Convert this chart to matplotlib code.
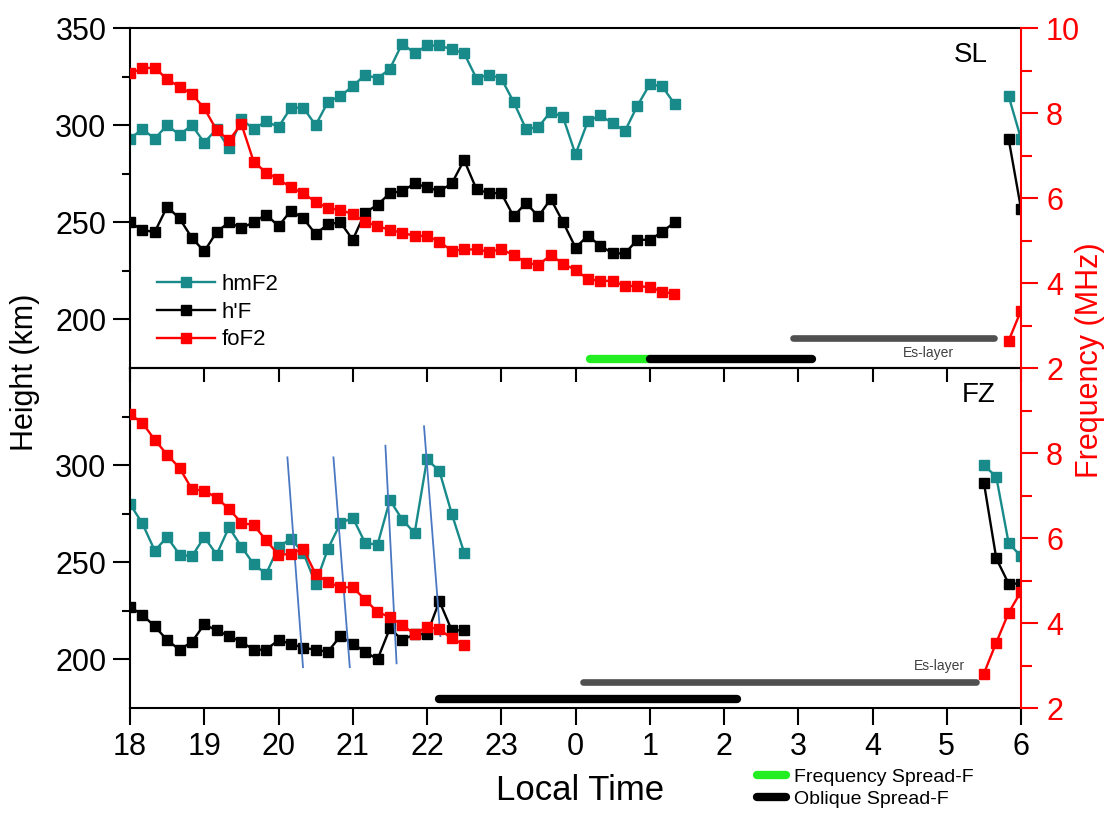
import numpy as np
import matplotlib
matplotlib.use("Agg")
import matplotlib.pyplot as plt
from matplotlib.lines import Line2D
from matplotlib.ticker import FixedLocator, FuncFormatter

plt.rcParams['font.family'] = ['Liberation Sans', 'DejaVu Sans']

# ---- data (10-min sampling from 18 LT) ----
sl_hmf2 = [293, 298, 293, 300, 295, 300, 291, 298, 288, 303, 298, 302, 299, 309, 309,
           300, 312, 315, 320, 326, 324, 329, 342, 337, 341, 341, 339, 337, 324, 326,
           324, 312, 298, 299, 307, 304, 285, 302, 305, 301, 297, 310, 321, 320, 311]
sl_hf = [250, 246, 245, 258, 252, 242, 235, 245, 250, 247, 250, 254, 248, 256, 252,
         244, 249, 250, 241, 255, 259, 265, 266, 270, 268, 266, 270, 282, 267, 265,
         265, 253, 260, 253, 262, 250, 237, 243, 238, 234, 234, 241, 241, 245, 250]
sl_fof2 = [8.93, 9.05, 9.07, 8.79, 8.62, 8.45, 8.11, 7.60, 7.36, 7.74, 6.85, 6.60, 6.44, 6.25, 6.11,
           5.91, 5.76, 5.72, 5.62, 5.44, 5.34, 5.25, 5.18, 5.11, 5.11, 4.97, 4.76, 4.79, 4.79, 4.74,
           4.79, 4.66, 4.48, 4.42, 4.66, 4.45, 4.31, 4.09, 4.05, 4.05, 3.93, 3.93, 3.90, 3.80, 3.74]
sl_late_t = [29.833, 30.0]
sl_late_hmf2 = [315, 293]
sl_late_hf = [293, 257]
sl_late_fof2 = [2.64, 3.35]

fz_hmf2 = [280, 270, 256, 263, 254, 253, 263, 254, 268, 258, 249, 244, 258, 262,
           255, 239, 257, 270, 273, 260, 259, 282, 272, 265, 303, 297, 275, 255]
fz_hf = [227, 223, 217, 210, 205, 209, 218, 215, 212, 209, 205, 205, 210, 208,
         206, 205, 204, 212, 208, 204, 200, 216, 210, 213, 213, 230, 215, 215]
fz_fof2 = [8.91, 8.71, 8.31, 7.96, 7.65, 7.15, 7.11, 6.95, 6.68, 6.36, 6.30, 5.95, 5.60, 5.63,
           5.75, 5.15, 4.96, 4.84, 4.84, 4.55, 4.26, 4.14, 3.95, 3.74, 3.91, 3.85, 3.64, 3.49]
fz_late_t = [29.5, 29.667, 29.833, 30.0]
fz_late_hmf2 = [300, 294, 260, 253]
fz_late_hf = [291, 252, 239, 239]
fz_late_fof2 = [2.81, 3.54, 4.24, 4.74]

# blue tilted streaks (FZ panel): start/end time and height
streak_t0 = [20.12, 20.74, 21.44, 21.96]
streak_t1 = [20.33, 20.96, 21.59, 22.18]
streak_h0 = [304, 304, 310, 320]
streak_h1 = [196, 196, 198, 212]

# event bars: (start, end, height)
sl_es = (26.93, 29.63, 190.6)
sl_freq_sf = (24.19, 25.0, 179.8)
sl_obl_sf = (25.0, 27.19, 179.8)
fz_es = (24.10, 29.39, 188.5)
fz_obl_sf = (22.16, 26.18, 179.5)

hour_ticks = list(range(18, 31))

TEAL = '#188a8a'
RED = '#ff0000'
GRAY = '#505050'
GREEN = '#22ee22'
BLUE = '#4a78c2'

fig = plt.figure(figsize=(11.13, 8.21), dpi=100)
W, H = 1113, 821
ax_top = fig.add_axes([130 / W, 1 - 368 / H, 891 / W, 340 / H])
ax_bot = fig.add_axes([130 / W, 1 - 708 / H, 891 / W, 340 / H])
ax_bot.patch.set_alpha(0)  # let the upper panel's ticks show through
axr_top = ax_top.twinx()
axr_bot = ax_bot.twinx()

line_kw = dict(marker='s', markersize=6.5, linewidth=1.7)


def draw_panel(ax, axr, t, hmf2, hf, fof2, lt, lhmf2, lhf, lfof2):
    h1, = ax.plot(t, hmf2, color=TEAL, label='hmF2', **line_kw)
    h2, = ax.plot(t, hf, color='black', label="h'F", **line_kw)
    ax.plot(lt, lhmf2, color=TEAL, **line_kw)
    ax.plot(lt, lhf, color='black', **line_kw)
    h3, = axr.plot(t, fof2, color=RED, label='foF2', **line_kw)
    axr.plot(lt, lfof2, color=RED, **line_kw)
    return [h1, h2, h3]


t_sl = 18 + np.arange(len(sl_hmf2)) / 6
t_fz = 18 + np.arange(len(fz_hmf2)) / 6
handles = draw_panel(ax_top, axr_top, t_sl, sl_hmf2, sl_hf, sl_fof2,
                     sl_late_t, sl_late_hmf2, sl_late_hf, sl_late_fof2)
draw_panel(ax_bot, axr_bot, t_fz, fz_hmf2, fz_hf, fz_fof2,
           fz_late_t, fz_late_hmf2, fz_late_hf, fz_late_fof2)


# bars
def bar(ax, seg, color, lw):
    ax.plot([seg[0], seg[1]], [seg[2], seg[2]], color=color, lw=lw,
            solid_capstyle='round', zorder=3)


bar(ax_top, sl_es, GRAY, 4.8)
bar(ax_top, sl_freq_sf, GREEN, 6)
bar(ax_top, sl_obl_sf, 'black', 6)
bar(ax_bot, fz_es, GRAY, 4.8)
bar(ax_bot, fz_obl_sf, 'black', 6)
ax_top.text(28.76, 182.9, 'Es-layer', fontsize=10, color='#404040', ha='center', va='center')
ax_bot.text(28.9, 196.6, 'Es-layer', fontsize=10, color='#404040', ha='center', va='center')

for a0, a1, b0, b1 in zip(streak_t0, streak_t1, streak_h0, streak_h1):
    ax_bot.plot([a0, a1], [b0, b1], color=BLUE, lw=1.3, zorder=4)

# panel labels
ax_top.text(0.963, 0.92, 'SL', transform=ax_top.transAxes, fontsize=20, ha='right', va='center')
ax_bot.text(0.971, 0.92, 'FZ', transform=ax_bot.transAxes, fontsize=20, ha='right', va='center')

# axes styling
for ax, axr, lbl in [(ax_top, axr_top, [200, 250, 300, 350]), (ax_bot, axr_bot, [200, 250, 300])]:
    ax.set_xlim(18, 30)
    ax.set_ylim(175, 350)
    axr.set_ylim(2, 10)
    ax.yaxis.set_major_locator(FixedLocator(lbl))
    ax.yaxis.set_minor_locator(FixedLocator([225, 275, 325]))
    ax.xaxis.set_major_locator(FixedLocator(hour_ticks))
    ax.xaxis.set_major_formatter(FuncFormatter(lambda v, p: f'{int(v) % 24}'))
    ax.tick_params(axis='y', which='major', direction='out', length=12, width=1.5,
                   labelsize=22, pad=5)
    ax.tick_params(axis='y', which='minor', direction='out', length=6, width=1.5)
    ax.tick_params(axis='x', which='major', direction='out', length=12, width=1.5,
                   labelsize=22, pad=5)
    for s in ['left', 'top', 'bottom']:
        ax.spines[s].set_linewidth(1.5)
    ax.spines['right'].set_visible(False)
    axr.yaxis.set_major_locator(FixedLocator([2, 4, 6, 8, 10] if ax is ax_top else [2, 4, 6, 8]))
    axr.yaxis.set_minor_locator(FixedLocator([3, 5, 7, 9]))
    axr.tick_params(axis='y', which='major', direction='out', length=12, width=1.5,
                    colors=RED, labelsize=22, pad=6)
    axr.tick_params(axis='y', which='minor', direction='out', length=8, width=1.5, colors=RED)
    axr.spines['right'].set_color(RED)
    axr.spines['right'].set_linewidth(1.5)
    for s in ['left', 'top', 'bottom']:
        axr.spines[s].set_visible(False)

ax_top.tick_params(axis='x', labelbottom=False, length=10)

fig.text(25 / W, 1 - 372 / H, 'Height (km)', rotation=90, fontsize=22, ha='center', va='center')
fig.text(1090 / W, 1 - 360 / H, 'Frequency (MHz)', rotation=90, fontsize=22, color=RED,
         ha='center', va='center')
fig.text(580 / W, 1 - 790 / H, 'Local Time', fontsize=25, ha='center', va='center')

axr_top.legend(handles, ['hmF2', "h'F", 'foF2'], loc='upper left',
               bbox_to_anchor=(0.030, 0.276), frameon=False, fontsize=16,
               handlelength=2.6, handletextpad=0.3, labelspacing=0.3,
               borderpad=0, borderaxespad=0)

sf_handles = [Line2D([], [], color=GREEN, lw=6, solid_capstyle='round'),
              Line2D([], [], color='black', lw=6, solid_capstyle='round')]
fig.legend(sf_handles, ['Frequency Spread-F', 'Oblique Spread-F'], loc='upper left',
           bbox_to_anchor=(757 / W, 1 - 768 / H), frameon=False, fontsize=14,
           handlelength=1.5, handletextpad=0.4, labelspacing=0.25,
           borderpad=0, borderaxespad=0)

fig.savefig('out.png', dpi=100)
